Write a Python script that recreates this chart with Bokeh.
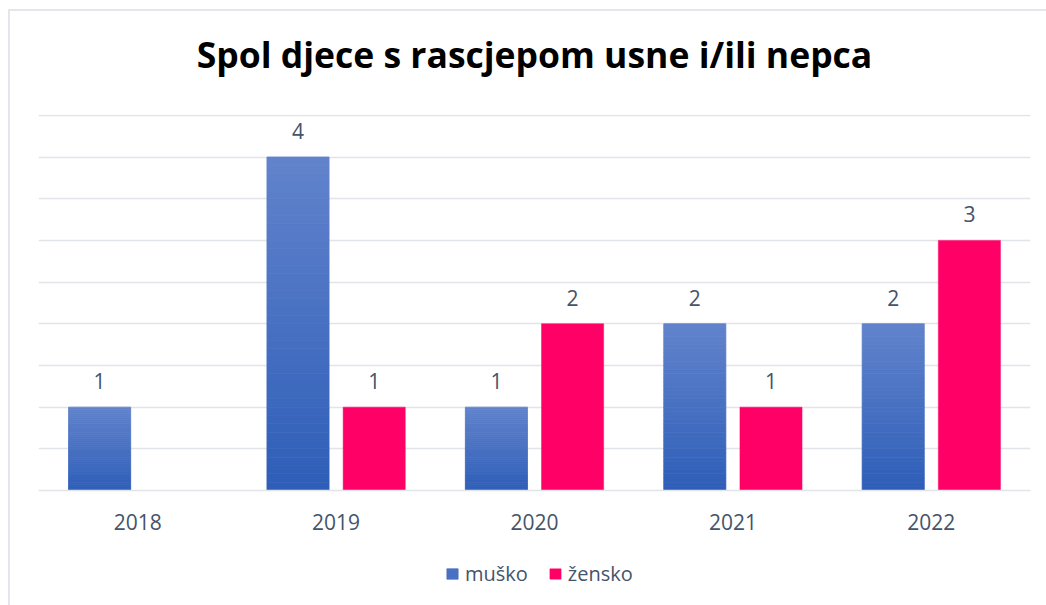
from bokeh.plotting import figure
from bokeh.layouts import column
from bokeh.models import (ColumnDataSource, FactorRange, SingleIntervalTicker, Legend, LegendItem,
                          Range1d, Label)
from bokeh.transform import dodge
from bokeh.core.properties import value
from bokeh.embed import file_html
from bokeh.resources import INLINE

# ---- data ----
years = ["2018", "2019", "2020", "2021", "2022"]
musko = [1, 4, 1, 2, 2]
zensko = [0, 1, 2, 1, 3]
series_names = ["muško", "žensko"]
title_text = "Spol djece s rascjepom usne i/ili nepca"

# ---- style ----
BLUE_TOP = (98, 131, 204)
BLUE_BOTTOM = (46, 94, 184)
PINK = "#FF0066"
TEXT = "#44546A"
GRID = "#E1E4E9"
FONT = "Open Sans"
OFF = 0.192
BAR_W = 0.313
W = 1036
BL, BR = 28, 16


def strip(h, x_range, y_range):
    f = figure(width=W, height=h, output_backend="svg", toolbar_location=None,
               x_range=x_range, y_range=y_range,
               min_border=0, min_border_left=BL, min_border_right=BR,
               min_border_top=0, min_border_bottom=0)
    f.axis.visible = False
    f.grid.visible = False
    f.outline_line_color = None
    return f


# ---- title strip ----
TH = 70
tp = strip(TH, Range1d(BL, W - BR), Range1d(0, TH))
tp.add_layout(Label(x=524, y=27.5, text=title_text, text_align="center",
                    text_baseline="alphabetic", text_font=FONT, text_font_style="bold",
                    text_font_size="35.5px", text_color="black"))

# ---- main chart ----
x_range = FactorRange(factors=years, range_padding=0)
p = figure(
    width=W, height=469,
    x_range=x_range, y_range=Range1d(0, 4.51),
    output_backend="svg", toolbar_location=None,
    min_border_left=BL, min_border_right=BR,
    min_border_top=33, min_border_bottom=60,
)
p.outline_line_color = None


def gradient_segments(vals, n=40):
    seg = dict(x=[], bottom=[], top=[], color=[])
    for yr, v in zip(years, vals):
        for k in range(n):
            f = (k + 0.5) / n
            c = tuple(round(BLUE_BOTTOM[i] + (BLUE_TOP[i] - BLUE_BOTTOM[i]) * f) for i in range(3))
            seg["x"].append(yr)
            seg["bottom"].append(v * k / n)
            seg["top"].append(v * (k + 1) / n)
            seg["color"].append("#%02x%02x%02x" % c)
    return ColumnDataSource(seg)


N = 40
seg_src = gradient_segments(musko, N)
pink_src = ColumnDataSource(dict(x=years, top=zensko))


def draw_bars(fig):
    rb = fig.vbar(x=dodge("x", -OFF, range=x_range), bottom="bottom", top="top", width=BAR_W,
                  source=seg_src, fill_color="color", line_color="color", line_width=0.8)
    rp = fig.vbar(x=dodge("x", OFF, range=x_range), top="top", width=BAR_W, source=pink_src,
                  fill_color=PINK, line_color=PINK, line_width=0.5)
    return rb, rp


draw_bars(p)


def labels(vals, off):
    xs = [y for y, v in zip(years, vals) if v > 0]
    ys = [v for v in vals if v > 0]
    src = ColumnDataSource(dict(x=xs, y=ys, t=[str(v) for v in ys]))
    p.text(x=dodge("x", off, range=x_range), y="y", text="t", source=src,
           text_font=value(FONT), text_font_size="21px", text_color=TEXT,
           text_align="center", text_baseline="alphabetic", y_offset=-26)


labels(musko, -OFF)
labels(zensko, OFF)

p.yaxis.visible = False
p.xgrid.grid_line_color = None
p.ygrid.ticker = SingleIntervalTicker(interval=0.5)
p.ygrid.grid_line_color = GRID
p.ygrid.grid_line_width = 1.5
p.xaxis.axis_line_color = GRID
p.xaxis.axis_line_width = 1.5
p.xaxis.major_tick_line_color = None
p.xaxis.minor_tick_line_color = None
p.xaxis.major_tick_out = 0
p.xaxis.major_label_standoff = 23
p.xaxis.major_label_text_font = FONT
p.xaxis.major_label_text_font_size = "21px"
p.xaxis.major_label_text_color = TEXT

# ---- legend strip (bars drawn out of view; only used as legend swatches) ----
lg = strip(55, x_range, Range1d(100, 101))
lb, lpk = draw_bars(lg)
legend = Legend(
    items=[LegendItem(label=series_names[0], renderers=[lb], index=N // 2),
           LegendItem(label=series_names[1], renderers=[lpk], index=1)],
    orientation="horizontal", location=(407, 18),
    border_line_color=None, background_fill_alpha=0,
    label_text_font=FONT, label_text_font_size="20px", label_text_color=TEXT,
    glyph_width=14, glyph_height=13, label_standoff=6, spacing=20,
    padding=0, margin=0,
)
lg.add_layout(legend, "center")

layout = column(tp, p, lg, spacing=0)
layout.styles = {"margin-left": "8px", "margin-top": "9px",
                 "border-left": "2px solid #E3E6EA", "border-top": "2px solid #E3E6EA"}

open("out.html", "w").write(file_html(layout, INLINE))
